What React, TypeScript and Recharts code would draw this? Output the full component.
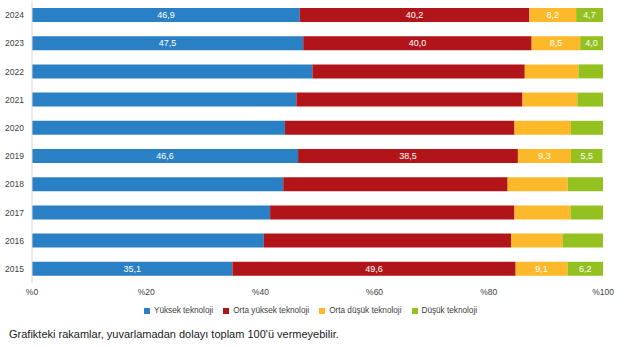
import { BarChart, Bar, XAxis, YAxis, Legend, LabelList } from 'recharts';

const years = ['2024', '2023', '2022', '2021', '2020', '2019', '2018', '2017', '2016', '2015'];
const highTech = [46.9, 47.5, 49.1, 46.3, 44.3, 46.6, 44.0, 41.7, 40.6, 35.1];
const midHighTech = [40.2, 40.0, 37.2, 39.6, 40.2, 38.5, 39.3, 42.8, 43.3, 49.6];
const midLowTech = [8.2, 8.5, 9.4, 9.6, 9.9, 9.3, 10.5, 9.8, 9.0, 9.1];
const lowTech = [4.7, 4.0, 4.3, 4.6, 5.6, 5.5, 6.2, 5.7, 7.1, 6.2];
const labeledYears = ['2024', '2023', '2019', '2015'];
const xTicks = [0, 20, 40, 60, 80, 100];

const FONT = '"Liberation Sans", Arial, sans-serif';

const chartData = years.map((year, i) => {
  const show = labeledYears.includes(year);
  return {
    year,
    high: highTech[i],
    midHigh: midHighTech[i],
    midLow: midLowTech[i],
    low: lowTech[i],
    highLabel: show ? highTech[i] : null,
    midHighLabel: show ? midHighTech[i] : null,
    midLowLabel: show ? midLowTech[i] : null,
    lowLabel: show ? lowTech[i] : null,
  };
});

const fmt = (v: any) => (v == null ? '' : Number(v).toFixed(1).replace('.', ','));

export default function App() {
  return (
    <div style={{ position: 'absolute', left: 0, top: 0, width: 624, height: 347, background: '#fff', fontFamily: FONT }}>
      <BarChart
        width={624}
        height={322}
        data={chartData}
        layout="vertical"
        margin={{ top: 1, right: 21, bottom: 0, left: 0 }}
        barSize={14}
      >
        <XAxis
          type="number"
          domain={[0, 100]}
          allowDataOverflow
          ticks={xTicks}
          tickFormatter={(v) => `%${v}`}
          axisLine={false}
          tickLine={false}
          tickSize={4}
          height={22}
          tick={{ fill: '#404040', fontSize: 8.5, fontFamily: FONT }}
        />
        <YAxis
          type="category"
          dataKey="year"
          width={32}
          axisLine={{ stroke: '#d9d9d9' }}
          tickLine={false}
          tick={{ fill: '#404040', fontSize: 8.5, fontFamily: FONT }}
        />
        <Legend
          verticalAlign="bottom"
          iconType="square"
          iconSize={6}
          height={16}
          itemSorter={null}
          wrapperStyle={{ fontSize: 8.2, fontFamily: FONT, color: '#404040', paddingLeft: 14, paddingTop: 1 }}
          formatter={(value) => <span style={{ color: '#404040' }}>{value}</span>}
        />
        <Bar dataKey="high" stackId="a" fill="#2a80c4" name="Yüksek teknoloji" isAnimationActive={false}>
          <LabelList dataKey="highLabel" position="center" formatter={fmt} fill="#ffffff" fontSize={9} />
        </Bar>
        <Bar dataKey="midHigh" stackId="a" fill="#b11519" name="Orta yüksek teknoloji" isAnimationActive={false}>
          <LabelList dataKey="midHighLabel" position="center" formatter={fmt} fill="#ffffff" fontSize={9} />
        </Bar>
        <Bar dataKey="midLow" stackId="a" fill="#fdb92a" name="Orta düşük teknoloji" isAnimationActive={false}>
          <LabelList dataKey="midLowLabel" position="center" formatter={fmt} fill="#ffffff" fontSize={9} />
        </Bar>
        <Bar dataKey="low" stackId="a" fill="#94c11f" name="Düşük teknoloji" isAnimationActive={false}>
          <LabelList dataKey="lowLabel" position="center" formatter={fmt} fill="#ffffff" fontSize={9} />
        </Bar>
      </BarChart>
      <div style={{ position: 'absolute', left: 9, top: 328, fontSize: 11, color: '#1a1a1a' }}>
        Grafikteki rakamlar, yuvarlamadan dolayı toplam 100'ü vermeyebilir.
      </div>
    </div>
  );
}
